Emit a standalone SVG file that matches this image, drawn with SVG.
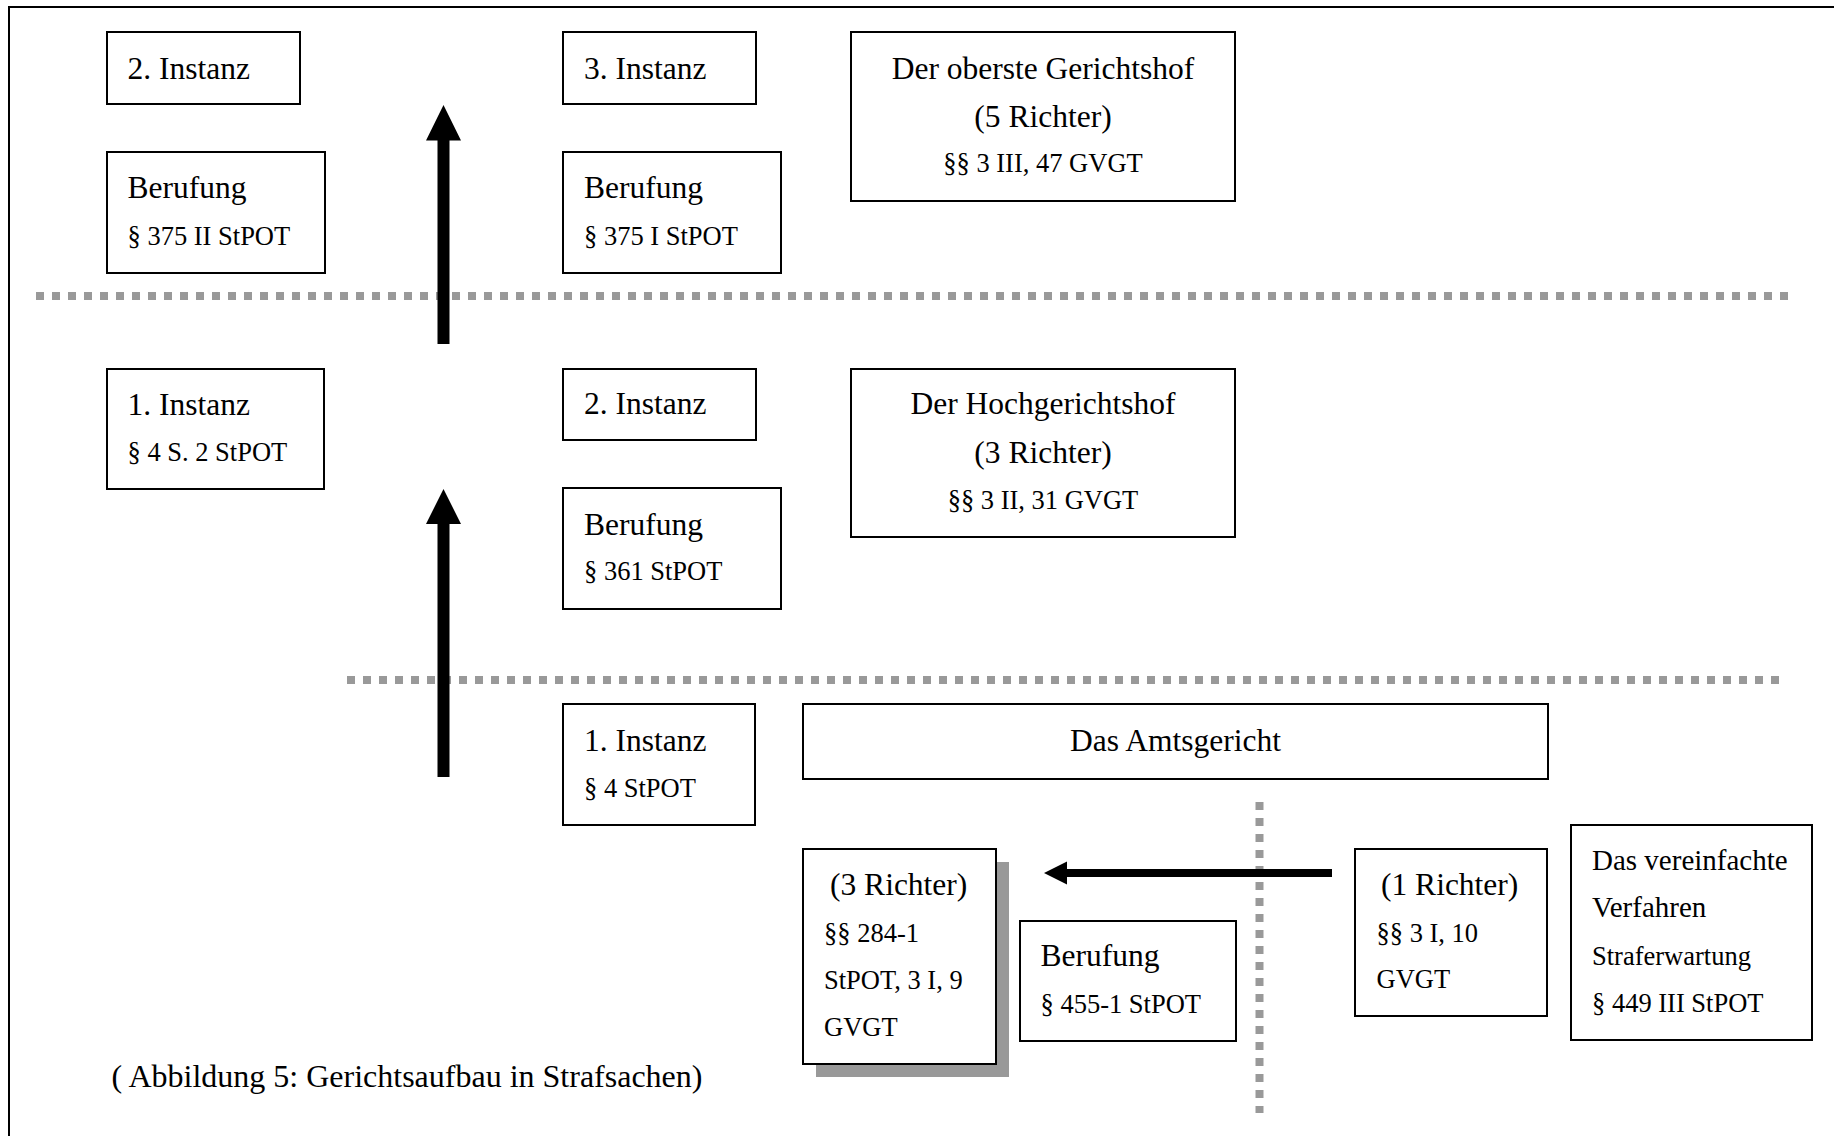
<svg xmlns="http://www.w3.org/2000/svg" width="1834" height="1136" viewBox="0 0 1834 1136">
<style>
.box{fill:#fff;stroke:#000;stroke-width:2}
.t{font-family:"Liberation Serif","Times New Roman",serif;font-size:31.5px;fill:#000}
.s{font-family:"Liberation Serif","Times New Roman",serif;font-size:26.5px;fill:#000}
.m{font-family:"Liberation Serif","Times New Roman",serif;font-size:29px;fill:#000}
.cap{font-family:"Liberation Serif","Times New Roman",serif;font-size:32px;fill:#000}
.c{text-anchor:middle}
.dot{stroke:#999;stroke-width:8;stroke-dasharray:8 8;fill:none}
.arr{fill:#000}
</style>
<rect x="0" y="0" width="1834" height="1136" fill="#fff"/>
<rect x="9" y="7" width="1900" height="1200" fill="none" stroke="#000" stroke-width="2"/>

<g id="dividers">
<line class="dot" x1="36" y1="296" x2="1788" y2="296"/>
<line class="dot" x1="347" y1="680" x2="1780" y2="680"/>
<line class="dot" x1="1259.5" y1="802" x2="1259.5" y2="1113"/>
</g>

<g id="connectors">
<path class="arr" d="M437.5,344 V140.5 H426 L443.5,105 L461,140.5 H449.5 V344 Z"/>
<path class="arr" d="M437.5,777 V524 H426 L443.5,489 L461,524 H449.5 V777 Z"/>
<path class="arr" d="M1332,869 H1067 V861.5 L1044,873 L1067,884.5 V877 H1332 Z"/>
</g>

<g id="n-instanz2-left"><rect class="box" x="107" y="32" width="193" height="72"/><text class="t" x="127.5" y="79">2. Instanz</text></g>
<g id="n-berufung-375-2"><rect class="box" x="107" y="152" width="218" height="121"/><text class="t" x="127.5" y="198">Berufung</text><text class="s" x="127.5" y="245">§ 375 II StPOT</text></g>
<g id="n-instanz3"><rect class="box" x="563" y="32" width="193" height="72"/><text class="t" x="584" y="79">3. Instanz</text></g>
<g id="n-berufung-375-1"><rect class="box" x="563" y="152" width="218" height="121"/><text class="t" x="584" y="198">Berufung</text><text class="s" x="584" y="245">§ 375 I StPOT</text></g>
<g id="n-oberster"><rect class="box" x="851" y="32" width="384" height="169"/><text class="t c" x="1043" y="79">Der oberste Gerichtshof</text><text class="t c" x="1043" y="127">(5 Richter)</text><text class="s c" x="1043" y="172">§§ 3 III, 47 GVGT</text></g>

<g id="n-instanz1-left"><rect class="box" x="107" y="369" width="217" height="120"/><text class="t" x="127.5" y="415">1. Instanz</text><text class="s" x="127.5" y="461">§ 4 S. 2 StPOT</text></g>
<g id="n-instanz2-mid"><rect class="box" x="563" y="369" width="193" height="71"/><text class="t" x="584" y="414">2. Instanz</text></g>
<g id="n-berufung-361"><rect class="box" x="563" y="488" width="218" height="121"/><text class="t" x="584" y="535">Berufung</text><text class="s" x="584" y="580">§ 361 StPOT</text></g>
<g id="n-hoch"><rect class="box" x="851" y="369" width="384" height="168"/><text class="t c" x="1043" y="414">Der Hochgerichtshof</text><text class="t c" x="1043" y="463">(3 Richter)</text><text class="s c" x="1043" y="509">§§ 3 II, 31 GVGT</text></g>

<g id="n-instanz1-mid"><rect class="box" x="563" y="704" width="192" height="121"/><text class="t" x="584" y="751">1. Instanz</text><text class="s" x="584" y="797">§ 4 StPOT</text></g>
<g id="n-amtsgericht"><rect class="box" x="803" y="704" width="745" height="75"/><text class="t c" x="1175.5" y="751">Das Amtsgericht</text></g>
<g id="n-3richter"><rect x="816" y="862" width="193" height="215" fill="#999"/><rect class="box" x="803" y="849" width="193" height="215"/><text class="t" x="830" y="895">(3 Richter)</text><text class="s" x="824" y="942">§§ 284-1</text><text class="s" x="824" y="989">StPOT, 3 I, 9</text><text class="s" x="824" y="1036">GVGT</text></g>
<g id="n-berufung-455"><rect class="box" x="1020" y="921" width="216" height="120"/><text class="t" x="1040.5" y="966">Berufung</text><text class="s" x="1040.5" y="1013">§ 455-1 StPOT</text></g>
<g id="n-1richter"><rect class="box" x="1355" y="849" width="192" height="167"/><text class="t" x="1381" y="895">(1 Richter)</text><text class="s" x="1376.5" y="942">§§ 3 I, 10</text><text class="s" x="1376.5" y="988">GVGT</text></g>
<g id="n-vereinfacht"><rect class="box" x="1571" y="825" width="241" height="215"/><text class="m" x="1592" y="870">Das vereinfachte</text><text class="m" x="1592" y="917">Verfahren</text><text class="s" x="1592" y="965">Straferwartung</text><text class="s" x="1592" y="1012">§ 449 III StPOT</text></g>

<text id="caption" class="cap" x="111.5" y="1087">( Abbildung 5: Gerichtsaufbau in Strafsachen)</text>
</svg>
